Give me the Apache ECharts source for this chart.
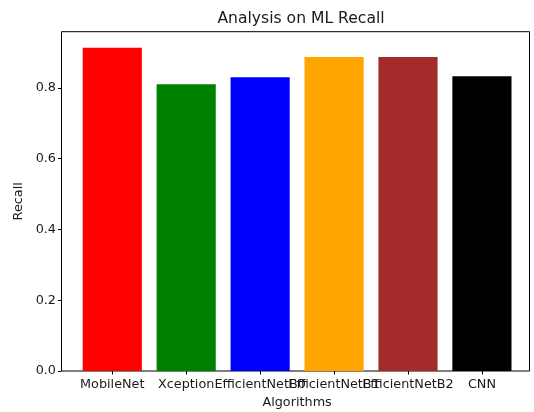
<!DOCTYPE html>
<html>
<head>
<meta charset="utf-8">
<script src="https://cdn.jsdelivr.net/npm/echarts@6/dist/echarts.min.js"></script>
<style>
  html, body { margin: 0; padding: 0; background: #fff; }
  #barChart { width: 534px; height: 412px; }
</style>
</head>
<body>
<div id="barChart"></div>
<script>
const algorithms = ['MobileNet', 'Xception', 'EfficientNetB0', 'EfficientNetB1', 'EfficientNetB2', 'CNN']
const recallValues = [0.913, 0.810, 0.830, 0.887, 0.887, 0.833]
const barColors = ['#ff0000', '#008000', '#0000ff', '#ffa500', '#a52a2a', '#000000']
const yTicks = [0, 0.2, 0.4, 0.6, 0.8]

const font = 'DejaVu Sans'
const textColor = '#1a1a1a'
const myBarChart = echarts.init(document.getElementById('barChart'))

// matplotlib style: y limit is max value plus 5% margin
const yMax = Math.max(...recallValues) * 1.05

const chartOption = {
  animation: false,
  title: {
    text: 'Analysis on ML Recall',
    left: 296,
    textAlign: 'center',
    top: 6,
    textStyle: { fontFamily: font, fontSize: 15.6, fontWeight: 'normal', color: textColor }
  },
  grid: [
    // bars grid (category bands like matplotlib)
    { left: 75.3, right: 15.1, top: 31.7, bottom: 41, outerBoundsMode: 'none' },
    // frame around plot area
    { left: 61.5, right: 4.5, top: 31.7, bottom: 41, outerBoundsMode: 'none', show: true, borderColor: '#000', borderWidth: 1, backgroundColor: 'transparent' }
  ],
  xAxis: [
    {
      type: 'category',
      gridIndex: 0,
      data: algorithms,
      name: 'Algorithms',
      nameLocation: 'middle',
      nameGap: 25,
      nameTextStyle: { fontFamily: font, fontSize: 12.8, color: textColor },
      axisLine: { show: false },
      axisTick: { show: true, alignWithLabel: true, length: 3.5, lineStyle: { color: '#000' } },
      axisLabel: {
        interval: 0,
        hideOverlap: false,
        margin: 7.5,
        fontFamily: font,
        fontSize: 12.8,
        color: textColor
      },
      splitLine: { show: false }
    },
    { type: 'value', gridIndex: 1, show: false }
  ],
  yAxis: [
    {
      type: 'value',
      gridIndex: 0,
      min: 0,
      max: yMax,
      offset: 13.8,
      name: 'Recall',
      nameLocation: 'middle',
      nameGap: 36,
      nameRotate: 90,
      nameTextStyle: { fontFamily: font, fontSize: 12.8, color: textColor },
      axisLine: { show: false },
      axisTick: { show: true, length: 3.5, customValues: yTicks, lineStyle: { color: '#000' } },
      axisLabel: {
        customValues: yTicks,
        margin: 5.5,
        fontFamily: font,
        fontSize: 12.8,
        color: textColor,
        formatter: (v) => v.toFixed(1)
      },
      splitLine: { show: false }
    },
    { type: 'value', gridIndex: 1, show: false }
  ],
  series: [
    {
      type: 'bar',
      xAxisIndex: 0,
      yAxisIndex: 0,
      barWidth: '80%',
      data: recallValues.map((v, i) => ({ value: v, itemStyle: { color: barColors[i] } }))
    }
  ]
}

myBarChart.setOption(chartOption, true)
</script>
</body>
</html>
